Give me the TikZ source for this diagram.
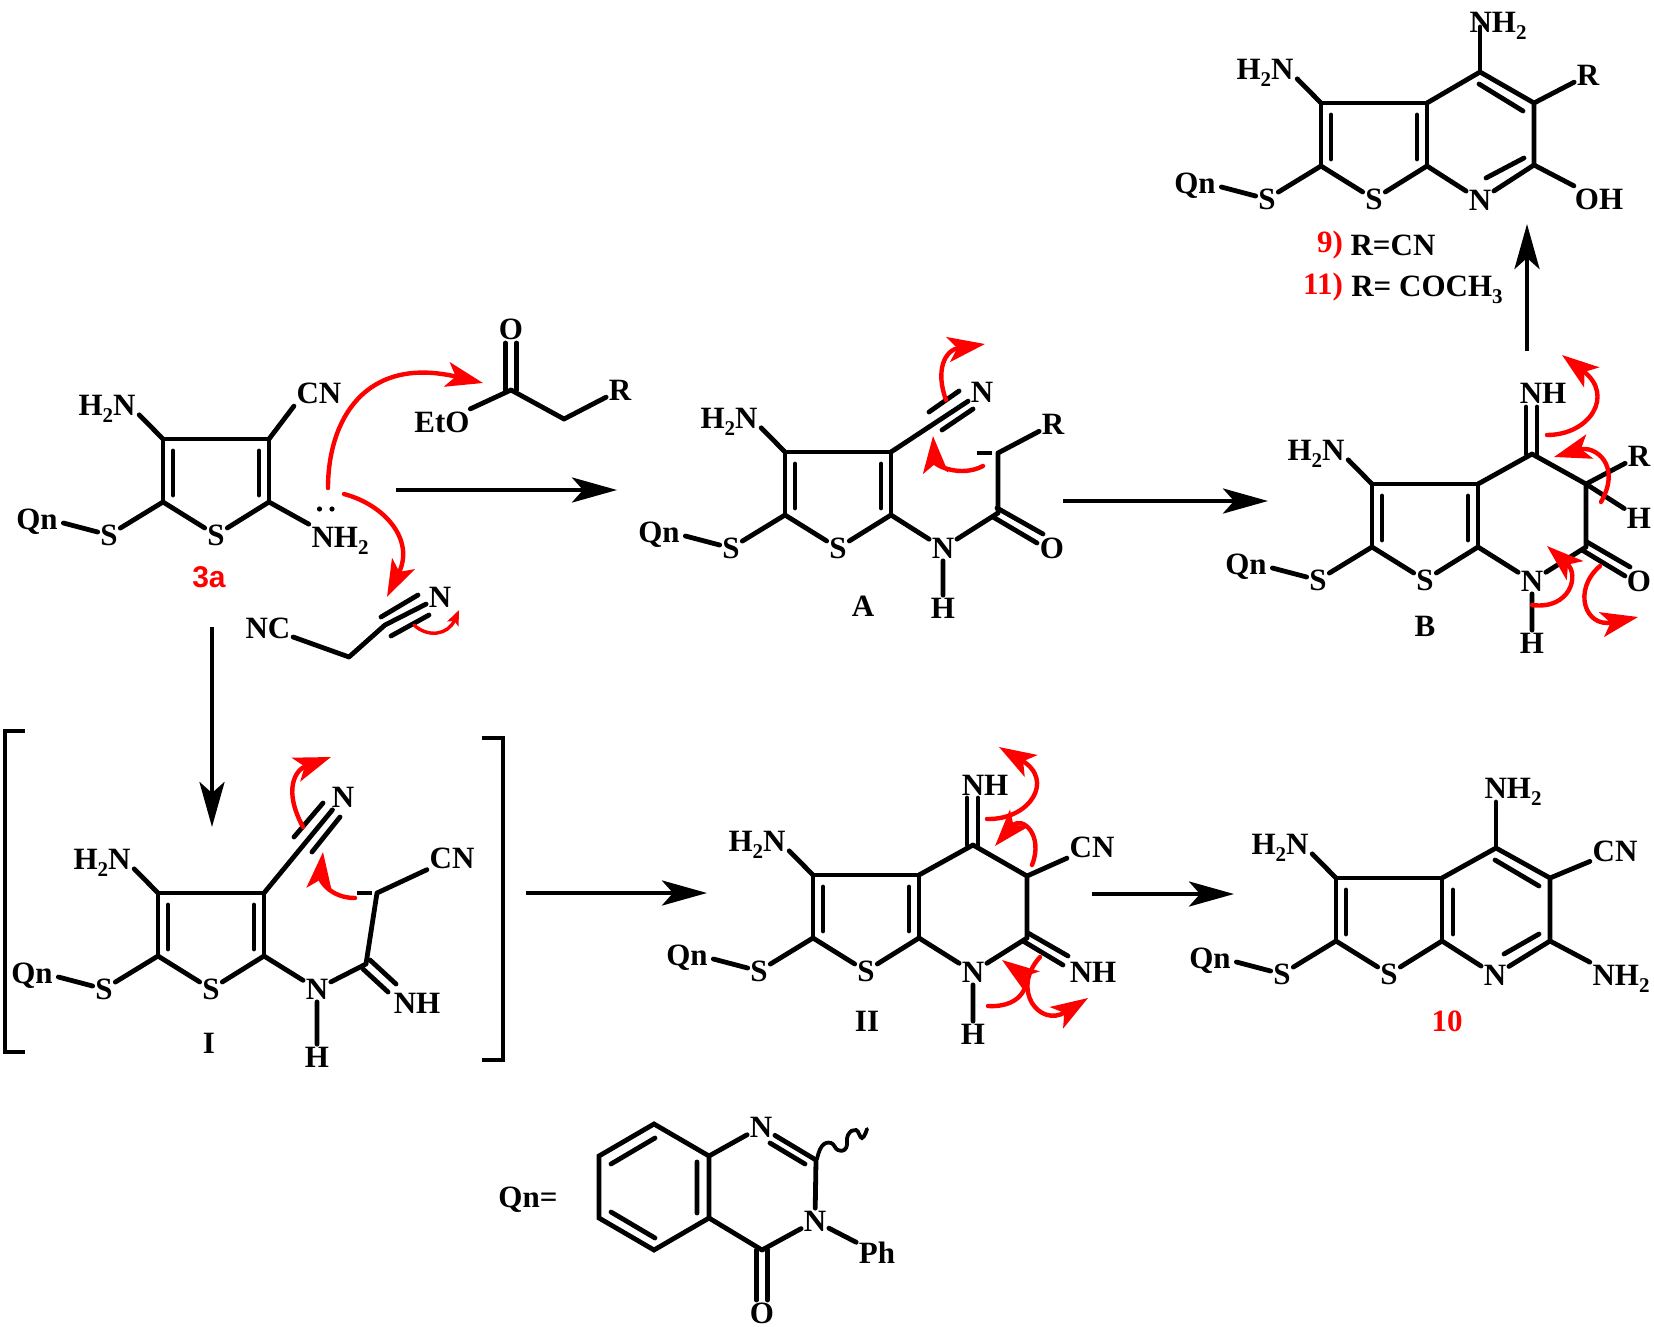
\documentclass[tikz,border=0pt]{standalone}
\usepackage{fontspec}
\setmainfont{Liberation Serif}
\newfontfamily\lsans{Liberation Sans}
\usetikzlibrary{arrows.meta}
\definecolor{cred}{RGB}{255,0,0}
\newcommand{\sbs}[1]{\smash{\raisebox{-7pt}{\fontsize{21}{21}\selectfont #1}}}
\tikzset{
  atom/.style={font=\fontsize{31}{33}\selectfont\bfseries,inner sep=2.5pt,text=black},
  tag/.style={font=\fontsize{31}{33}\selectfont\bfseries,inner sep=0pt,text=cred},
  bond/.style={draw=black,line width=4.8pt,line cap=round},
  rxn/.style={draw=black,line width=4.6pt,-{Stealth[length=45pt,width=25pt,inset=11pt]}},
  curly/.style={draw=cred,line width=4.4pt,line cap=round,-{Stealth[length=37pt,width=25pt,inset=9pt]}},
  curlysm/.style={draw=cred,line width=3.4pt,line cap=round,-{Stealth[length=15pt,width=12pt,inset=3pt]}},
  brk/.style={draw=black,line width=4.8pt}
}
% thiophene core: prefix, x, y, x offset of the inner line at the fused bond
\newcommand{\thio}[4]{%
\begin{scope}[shift={(#2,#3)}]
  \coordinate (#1tl) at (0,0);
  \coordinate (#1tr) at (106,0);
  \coordinate (#1bl) at (0,63);
  \coordinate (#1br) at (106,63);
  \node[atom] (#1S) at (53,96) {S};
  \node[atom] (#1X) at (-54,96) {S};
  \node[atom] (#1Q) at (-126,83) {Qn};
  \node[atom] (#1H) at (-56,-34) {H\sbs{2}N};
  \path (#1H.south east) +(1,-3) coordinate (#1Hb);
  \path (#1Q.east) +(3,1) coordinate (#1Qb);
  \draw[bond] (#1tl) -- (#1tr) (#1tl) -- (#1bl) (#1tr) -- (#1br);
  \draw[bond] (#1bl) -- (#1S) (#1S) -- (#1br);
  \draw[bond] (#1bl) -- (#1X) (#1X) -- (#1Qb);
  \draw[bond] (#1tl) -- (#1Hb);
  \draw[bond] (10,12) -- (10,56);
  \draw[bond] (106+#4,12) -- (106+#4,56);
\end{scope}}
\begin{document}
\begin{tikzpicture}[x=1pt,y=-1pt]
\useasboundingbox (0,0) rectangle (1654,1327);

% ---------- 3a
\thio{a}{163}{439}{-10}
\node[atom] (aCN) at (319,393) {CN};
\node[atom] (aNH) at (340,537) {NH\sbs{2}};
\node[font=\lsans\fontsize{30}{32}\selectfont\bfseries,text=cred,inner sep=0pt] (a3) at (209,577) {3a};
\draw[bond] (atr) -- (aCN.south west);
\draw[bond] (abr) -- (aNH.north west);
\fill (319.5,509) circle (2.6) (332,509) circle (2.6);
% ester
\coordinate (e1) at (511,390);
\coordinate (e2) at (564,419);
\node[atom] (eO) at (511,329) {O};
\node[atom] (eEt) at (442,422) {EtO};
\node[atom] (eR) at (620,390) {R};
\draw[bond] (e1) -- (eEt) (e1) -- (e2) (e2) -- (eR);
\draw[bond] (505.5,390) -- (505.5,343) (516.5,390) -- (516.5,343);
% malononitrile
\coordinate (m1) at (349,657);
\coordinate (m2) at (385,625);
\node[atom] (mNC) at (268,628) {NC};
\node[atom] (mN) at (440,597) {N};
\draw[bond] (mNC) -- (m1) (m1) -- (m2) (m2) -- (mN);
\draw[bond] (381,617) -- (418,595) (391,636) -- (429,615);
% curly arrows
\draw[curly] (328,488) .. controls (328,420) and (365,355) .. (483,383);
\draw[curly] (344,494) .. controls (385,505) and (415,540) .. (387,597);
\draw[curlysm] (414,625) .. controls (428,638) and (448,635) .. (459,610);

% ---------- A
\thio{b}{785}{452}{-10}
\node[atom] (bN3) at (982,392) {N};
\node[atom] (bN) at (943,548) {N};
\node[atom] (bHH) at (943,608) {H};
\node[atom] (bO) at (1052,548) {O};
\node[atom] (bR) at (1053,424) {R};
\node[atom] (bA) at (863,606) {A};
\coordinate (b1) at (998,513);
\coordinate (b2) at (998,453);
\draw[bond] (btr) -- (bN3);
\draw[bond] (929,412) -- (959,391) (942,430) -- (973,409);
\draw[bond] (bbr) -- (bN) (bN) -- (b1) (b1) -- (b2) (b2) -- (bR) (bN) -- (bHH);
\draw[bond] (997,508) -- (1043,534) (993,517) -- (1037,543);
\draw[bond,line cap=butt] (977,453) -- (992,453);
\draw[curly] (946,400) .. controls (935,370) and (945,350) .. (985,344);
\draw[curly] (983,466) .. controls (960,478) and (935,465) .. (933,436);

% ---------- B
\thio{c}{1372}{484}{-10}
\coordinate (c4) at (1532,454);
\coordinate (c5) at (1586,484);
\coordinate (c6) at (1586,547);
\node[atom] (cNH) at (1543,393) {NH};
\node[atom] (cR) at (1639,456) {R};
\node[atom] (cH) at (1639,518) {H};
\node[atom] (cN) at (1532,581) {N};
\node[atom] (cHH) at (1532,643) {H};
\node[atom] (cO) at (1639,581) {O};
\node[atom] (cB) at (1425,626) {B};
\draw[bond] (ctr) -- (c4) (c4) -- (c5) (c5) -- (c6) (c6) -- (cN) (cN) -- (cbr) (cN) -- (cHH);
\draw[bond] (c5) -- (cR) (c5) -- (cH);
\draw[bond] (1526,454) -- (1526,407) (1537,454) -- (1537,407);
\draw[bond] (1587,542) -- (1630,567) (1582,550) -- (1625,576);
\draw[curly] (1547,435) .. controls (1590,435) and (1615,395) .. (1562,355);
\draw[curly] (1601,502) .. controls (1622,465) and (1595,445) .. (1554,457);
\draw[curly] (1532,605) .. controls (1570,610) and (1580,575) .. (1547,546);
\draw[curly] (1600,566) .. controls (1572,590) and (1585,628) .. (1638,617);

% ---------- 9 / 11
\thio{d}{1321}{103}{-10}
\coordinate (d4) at (1480,72);
\coordinate (d5) at (1534,103);
\coordinate (d6) at (1534,165);
\node[atom] (dNH) at (1498,22) {NH\sbs{2}};
\node[atom] (dR) at (1588,75) {R};
\node[atom] (dOH) at (1599,199) {OH};
\node[atom] (dN) at (1480,200) {N};
\draw[bond] (dtr) -- (d4) (d4) -- (d5) (d5) -- (d6) (d5) -- (dR) (d6) -- (dOH) (dbr) -- (dN);
\draw[bond] (d6) -- (dN);
\draw[bond] (d4) -- (1480,27);
\draw[bond] (1479,84) -- (1523,111) (1486,178) -- (1524,158);
\node[tag] (d9) at (1330,245) {9)};
\node[atom] (dR1) at (1393,245) {R=CN};
\node[tag] (d11) at (1323,287) {11)};
\node[atom] (dR2) at (1427,286) {R= COCH\sbs{3}};

% ---------- I
\thio{e}{158}{893}{-10}
\node[atom] (eN3) at (343,797) {N};
\node[atom] (eN) at (317,989) {N};
\node[atom] (eHH) at (317,1057) {H};
\node[atom] (eCN) at (452,858) {CN};
\node[atom] (eNH) at (417,1003) {NH};
\node[atom] (eI) at (209,1043) {I};
\coordinate (f1) at (366,964);
\coordinate (f2) at (377,893);
\draw[bond] (etr) -- (eN3);
\draw[bond] (294,837) -- (323,803) (312,852) -- (340,817);
\draw[bond] (ebr) -- (eN) (eN) -- (f1) (f1) -- (f2) (f2) -- (eCN) (eN) -- (eHH);
\draw[bond] (370,960) -- (396,984) (363,969) -- (388,992);
\draw[bond,line cap=butt] (357,893) -- (372,893);
\draw[curly] (303,827) .. controls (283,790) and (295,770) .. (331,757);
\draw[curly] (355,898) .. controls (330,898) and (320,880) .. (323,852);
\draw[brk] (25,731) -- (5,731) -- (5,1052) -- (25,1052);
\draw[brk] (482,738) -- (503,738) -- (503,1060) -- (482,1060);

% ---------- II
\thio{g}{813}{875}{-10}
\coordinate (g4) at (973,845);
\coordinate (g5) at (1027,876);
\coordinate (g6) at (1027,938);
\node[atom] (gNH) at (985,785) {NH};
\node[atom] (gCN) at (1092,847) {CN};
\node[atom] (gN) at (973,972) {N};
\node[atom] (gHH) at (973,1034) {H};
\node[atom] (gNH2) at (1093,972) {NH};
\node[atom] (gII) at (867,1021) {II};
\draw[bond] (gtr) -- (g4) (g4) -- (g5) (g5) -- (g6) (g6) -- (gN) (gN) -- (gbr) (gN) -- (gHH) (g5) -- (gCN);
\draw[bond] (967,845) -- (967,798) (978,845) -- (978,798);
\draw[bond] (1028,933) -- (1068,956) (1023,941) -- (1063,965);
\draw[curly] (987,819) .. controls (1030,820) and (1055,780) .. (999,747);
\draw[curly] (1032,865) .. controls (1044,835) and (1022,815) .. (995,846);
\draw[curly] (988,1006) .. controls (1025,1008) and (1030,980) .. (1002,960);
\draw[curly] (1040,957) .. controls (1010,990) and (1040,1028) .. (1088,998);

% ---------- 10
\thio{h}{1336}{878}{11}
\coordinate (h4) at (1496,848);
\coordinate (h5) at (1550,878);
\coordinate (h6) at (1550,941);
\node[atom] (hNH) at (1513,788) {NH\sbs{2}};
\node[atom] (hCN) at (1615,851) {CN};
\node[atom] (hN) at (1495,975) {N};
\node[atom] (hNH2) at (1621,975) {NH\sbs{2}};
\node[tag] (h10) at (1447,1021) {10};
\draw[bond] (htr) -- (h4) (h4) -- (h5) (h5) -- (h6) (h5) -- (hCN) (h6) -- (hNH2.north west) (hbr) -- (hN) (h6) -- (hN);
\draw[bond] (h4) -- (1496,802);
\draw[bond] (1495,860) -- (1539,886) (1504,954) -- (1539,934);

% ---------- Qn
\coordinate (q1) at (654,1124);
\coordinate (q2) at (599,1156);
\coordinate (q3) at (599,1218);
\coordinate (q4) at (654,1250);
\coordinate (q5) at (709,1218);
\coordinate (q6) at (709,1156);
\coordinate (q7) at (816,1160);
\coordinate (q8) at (762,1250);
\node[atom] (qN1) at (761,1127) {N};
\node[atom] (qN2) at (815,1221) {N};
\node[atom] (qO) at (762,1313) {O};
\node[atom] (qPh) at (877,1253) {Ph};
\node[atom] (qQ) at (528,1200) {Qn=};
\draw[bond] (q1) -- (q2) -- (q3) -- (q4) -- (q5) -- (q6) -- cycle;
\draw[bond] (611,1164) -- (655,1138) (611,1212) -- (655,1238) (697,1162) -- (697,1213);
\draw[bond] (q6) -- (qN1) (qN1) -- (q7) (q7) -- (qN2) (qN2) -- (q8) (q8) -- (q5) (qN2) -- (qPh);
\draw[bond] (770,1143) -- (805,1164);
\draw[bond] (756.5,1250) -- (756.5,1300) (767.5,1250) -- (767.5,1300);
\draw[bond,line width=3.8pt] plot[smooth,tension=0.8] coordinates {(817,1159) (822,1146) (831,1143) (838,1150) (846,1148) (848,1135) (856,1130) (862,1138) (867,1129)};

% ---------- reaction arrows
\coordinate (r1a) at (396,490); \coordinate (r1b) at (617,490);
\coordinate (r2a) at (1063,501); \coordinate (r2b) at (1268,501);
\coordinate (r3a) at (1527,351); \coordinate (r3b) at (1527,224);
\coordinate (r4a) at (212,627); \coordinate (r4b) at (212,827);
\coordinate (r5a) at (526,893); \coordinate (r5b) at (707,893);
\coordinate (r6a) at (1092,894); \coordinate (r6b) at (1234,894);
\foreach \p/\q in {r1a/r1b,r2a/r2b,r3a/r3b,r4a/r4b,r5a/r5b,r6a/r6b}
  \draw[rxn] (\p) -- (\q);
\end{tikzpicture}
\end{document}
